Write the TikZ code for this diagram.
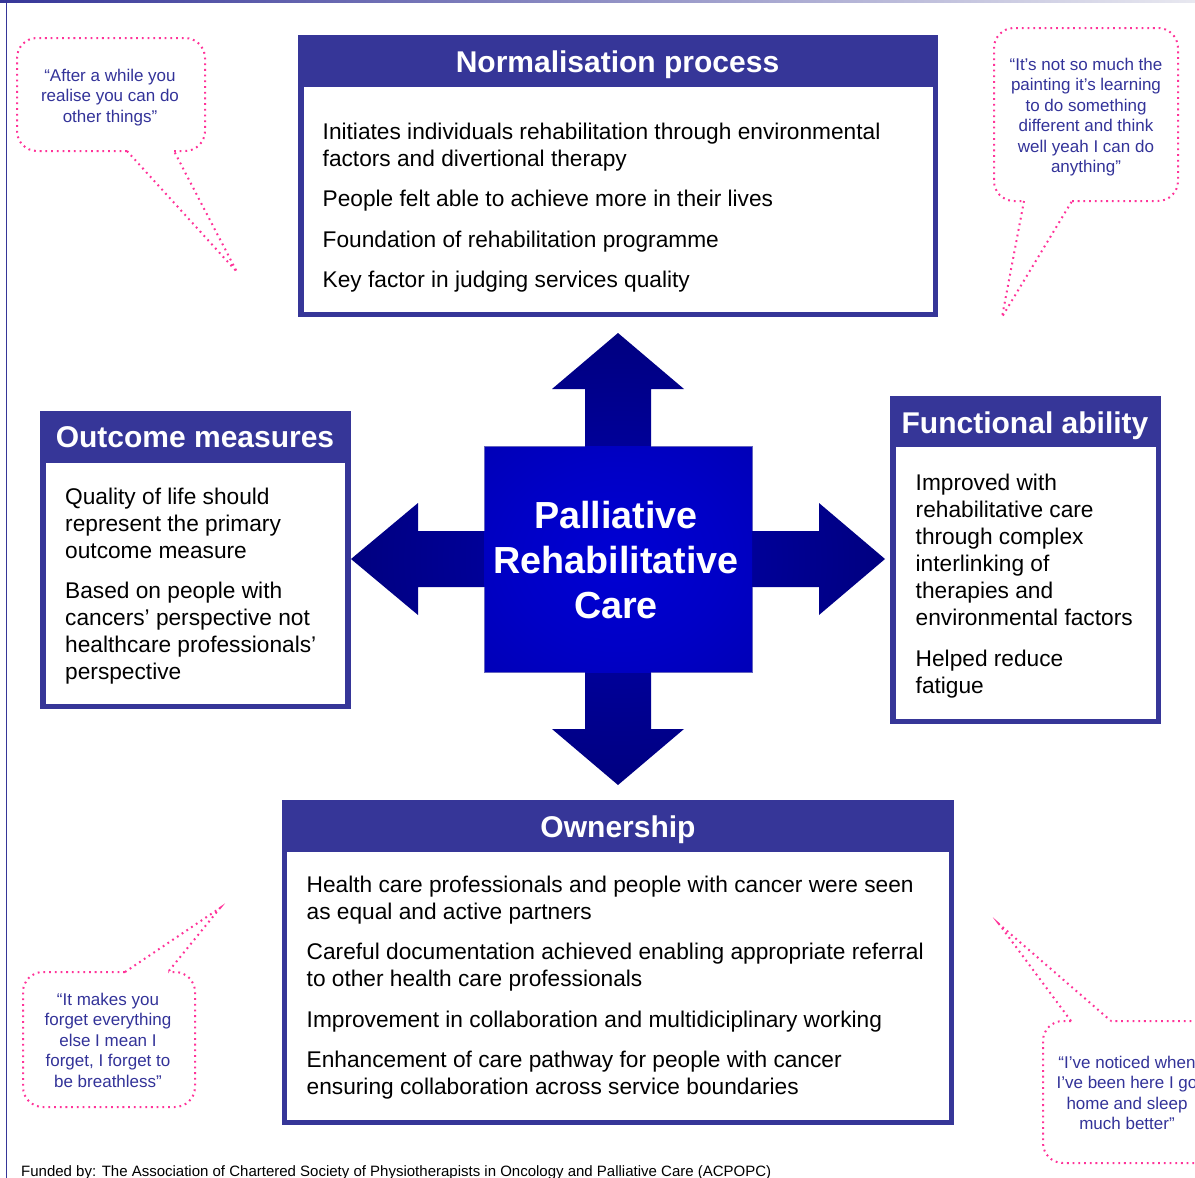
\documentclass[tikz,border=0pt]{standalone}
\usepackage{fontspec}
\setmainfont{Liberation Sans}
\definecolor{hdr}{RGB}{54,54,152}
\definecolor{quotecol}{RGB}{51,51,153}
\definecolor{pinkdot}{RGB}{255,51,153}
\definecolor{edgecol}{RGB}{100,100,190}
\definecolor{arA}{RGB}{0,0,176}
\definecolor{arB}{RGB}{0,0,128}
\definecolor{arC}{RGB}{0,0,92}
\definecolor{sqA}{RGB}{0,0,212}
\definecolor{sqB}{RGB}{0,0,198}
\definecolor{sqC}{RGB}{0,0,170}
\definecolor{sqD}{RGB}{0,0,140}
\definecolor{topR}{RGB}{232,232,240}
\pgfdeclareradialshading{crossshade}{\pgfpoint{0bp}{0bp}}{color(0bp)=(arA); color(25bp)=(arB); color(50bp)=(arC); color(72bp)=(arC)}
\pgfdeclareradialshading{squareshade}{\pgfpoint{0bp}{0bp}}{color(0bp)=(sqA); color(20bp)=(sqB); color(50bp)=(sqC); color(72bp)=(sqD)}
\tikzset{
  hdrtext/.style={font=\fontsize{30}{36}\selectfont\bfseries, text=white, inner sep=0pt, anchor=base},
  bodytext/.style={font=\fontsize{22.7}{27}\selectfont, align=left, inner sep=0pt, anchor=base west},
  quotetext/.style={font=\fontsize{17}{20.5}\selectfont, text=quotecol, align=center, inner sep=0pt, anchor=base},
  callout/.style={draw=pinkdot, line width=2pt, dash pattern=on 1.8pt off 3.9pt},
}
\newcommand{\palbox}[5]{%
  \fill[hdr] (#1,#2) rectangle (#4,#5);
  \fill[white] (#1+5.5,#3) rectangle (#4-5.5,#5-5);
}
\begin{document}
\begin{tikzpicture}[x=1pt,y=-1pt]
\useasboundingbox (0,0) rectangle (1195,1178);
\clip (0,0) rectangle (1195,1178);
\fill[white] (0,0) rectangle (1195,1178);
% page frame lines
\shade[left color=hdr, right color=topR] (0,0) rectangle (1195,2.5);
\fill[hdr] (5.8,0) rectangle (7.4,1178);

% boxes
\palbox{298}{35}{87}{938}{317}
\palbox{40}{411}{462.5}{350.5}{709}
\palbox{890}{396}{447}{1161}{724}
\palbox{281.5}{800}{852}{954}{1125}

% headers
\node[hdrtext] (hN) at (617.5,72.5) {Normalisation process};
\node[hdrtext] (hO) at (195,447.5) {Outcome measures};
\node[hdrtext] (hF) at (1025,433.5) {Functional ability};
\node[hdrtext] (hW) at (618,837) {Ownership};

% body texts (anchored at the baseline of the last line)
\node[bodytext] (bN) at (322.5,287.5) {Initiates individuals rehabilitation through environmental\\factors and divertional therapy\\[13.5pt]People felt able to achieve more in their lives\\[13.5pt]Foundation of rehabilitation programme\\[13.5pt]Key factor in judging services quality};
\node[bodytext] (bO) at (65,679.5) {Quality of life should\\represent the primary\\outcome measure\\[13.5pt]Based on people with\\cancers’ perspective not\\healthcare professionals’\\perspective};
\node[bodytext] (bF) at (915.5,693) {Improved with\\rehabilitative care\\through complex\\interlinking of\\therapies and\\environmental factors\\[13.5pt]Helped reduce\\fatigue};
\node[bodytext] (bW) at (306.5,1094.5) {Health care professionals and people with cancer were seen\\as equal and active partners\\[13.5pt]Careful documentation achieved enabling appropriate referral\\to other health care professionals\\[13.5pt]Improvement in collaboration and multidiciplinary working\\[13.5pt]Enhancement of care pathway for people with cancer\\ensuring collaboration across service boundaries};

% central cross
\shade[shading=crossshade] (618,333) -- (684,389) -- (651,389) -- (651,446) -- (752,446) -- (752,531) -- (819,531) -- (819,503) -- (885,559) -- (819,615) -- (819,587) -- (752,587) -- (752,672) -- (651,672) -- (651,729) -- (684,729) -- (618,785) -- (552,729) -- (585,729) -- (585,672) -- (484,672) -- (484,587) -- (418,587) -- (418,615) -- (351,559) -- (418,503) -- (418,531) -- (484,531) -- (484,446) -- (585,446) -- (585,389) -- (552,389) -- cycle;
\shade[shading=squareshade] (484,446) rectangle (752,672);
\draw[edgecol, line width=1pt] (585,446) -- (484,446) -- (484,531);
\draw[edgecol, line width=1pt] (651,446) -- (752,446) -- (752,531);
\draw[edgecol, line width=1pt] (752,587) -- (752,672) -- (651,672);
\draw[edgecol, line width=1pt] (585,672) -- (484,672) -- (484,587);
\node[font=\fontsize{37.7}{45}\selectfont\bfseries, text=white, align=center, inner sep=0pt, anchor=base] (ctr) at (616,618.5) {Palliative\\Rehabilitative\\Care};

% callouts
\draw[callout, rounded corners=20pt] (127,151) -- (17,151) -- (17,38) -- (205,38) -- (205,151) -- (174,151);
\draw[callout] (127,151) -- (237,272) -- (174,151);
\node[quotetext] (q1) at (110,122) {“After a while you\\realise you can do\\other things”};

\draw[callout, rounded corners=20pt] (1072,201) -- (1178,201) -- (1178,28) -- (994,28) -- (994,201) -- (1024,201);
\draw[callout] (1024,201) -- (1002,317) -- (1072,201);
\node[quotetext] (q2) at (1086,172.5) {“It’s not so much the\\painting it’s learning\\to do something\\different and think\\well yeah I can do\\anything”};

\draw[callout, rounded corners=20pt] (125,972) -- (23,972) -- (23,1107) -- (195,1107) -- (195,972) -- (168,972);
\draw[callout] (125,972) -- (220,908) -- (168,972);
\node[quotetext] (q3) at (108,1087) {“It makes you\\forget everything\\else I mean I\\forget, I forget to\\be breathless”};

\draw[callout, rounded corners=20pt] (1071,1021) -- (1043,1021) -- (1043,1163) -- (1215,1163) -- (1215,1021) -- (1111,1021);
\draw[callout] (1071,1021) -- (999,924) -- (1111,1021);
\node[quotetext] (q4) at (1127,1129.5) {“I’ve noticed when\\I’ve been here I go\\home and sleep\\much better”};

% footer
\node[font=\fontsize{15}{18}\selectfont, inner sep=0pt, anchor=base west] (foot) at (21,1176) {Funded by: The Association of Chartered Society of Physiotherapists in Oncology and Palliative Care (ACPOPC)};
\end{tikzpicture}
\end{document}
